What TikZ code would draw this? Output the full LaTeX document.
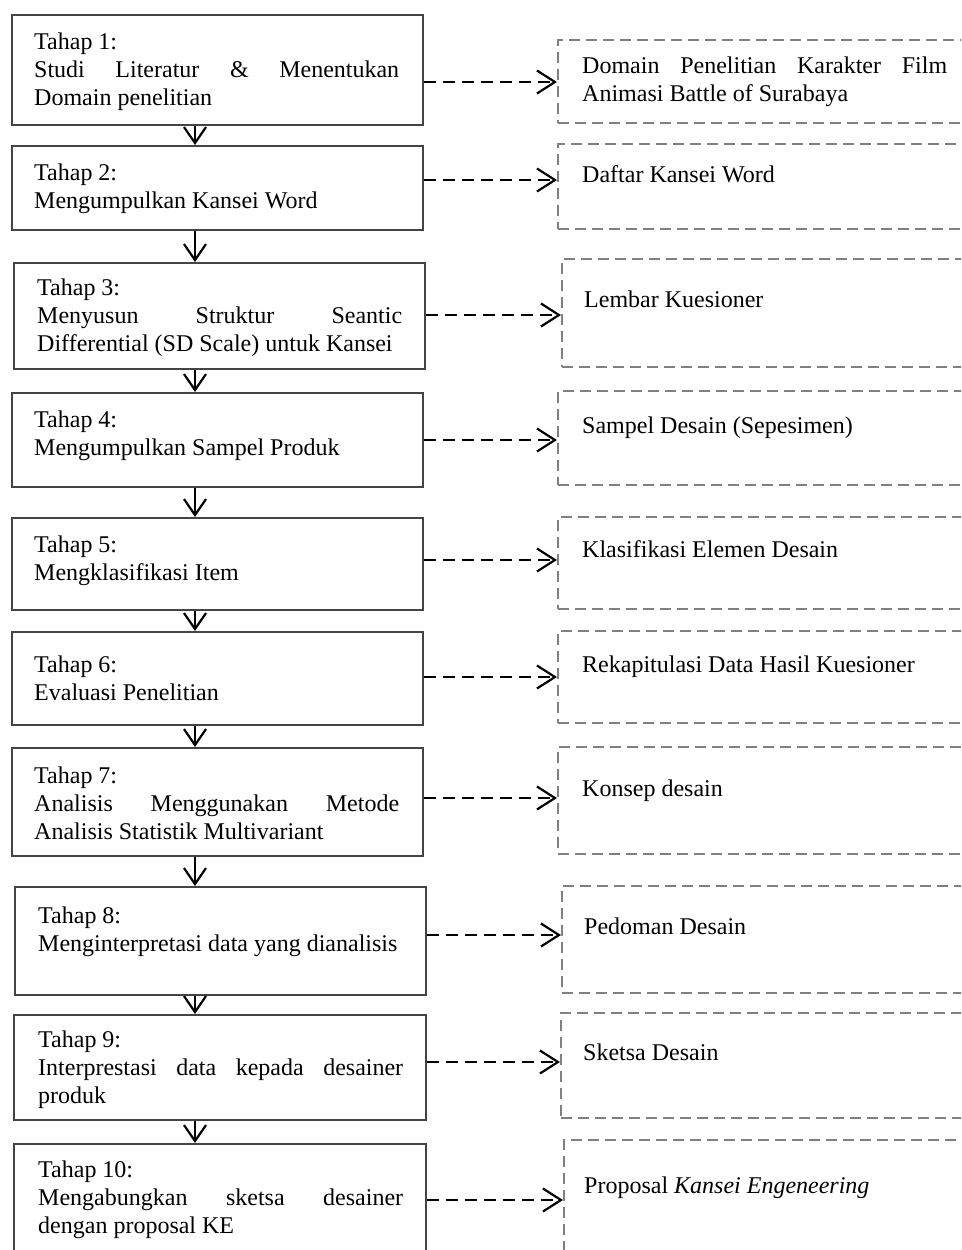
\documentclass[tikz,border=0pt]{standalone}
\usepackage{fontspec}
\setmainfont{Liberation Serif}
\usetikzlibrary{arrows.meta}
\hyphenpenalty=10000
\exhyphenpenalty=10000
\tolerance=10000

\definecolor{Cframe}{HTML}{444444}
\definecolor{Cdashgray}{HTML}{808080}

\tikzset{
  stagebox/.style={draw=Cframe,line width=1.6pt,anchor=north west,inner sep=0pt},
  outbox/.style={draw=Cdashgray,line width=1.6pt,dash pattern=on 11pt off 6pt,
    anchor=north west,inner sep=0pt,minimum width=420},
  boxtext/.style={anchor=base west,inner sep=0pt,text width=365pt,align=justify,
    font=\fontsize{24}{28}\selectfont},
  flowarrow/.style={line width=2.2pt,-{Straight Barb[length=16pt,width=22pt]}},
  outarrow/.style={line width=2.2pt,dash pattern=on 12pt off 7pt,
    -{Straight Barb[length=18pt,width=23pt]}}
}

\begin{document}
\begin{tikzpicture}[x=1pt,y=-1pt]
  \clip (0,0) rectangle (961,1250);
  \fill[white] (0,0) rectangle (961,1250);

  % kotak tahapan (kiri)
  \foreach \i/\x/\y/\w/\h in {1/11/14/411/110,2/11/145/411/84,3/13/262/411/106,
      4/11/392/411/94,5/11/517/411/92,6/11/631/411/93,7/11/747/411/108,
      8/14/886/411/108,9/13/1014/412/105,10/13/1143/412/130}{
    \node[stagebox,minimum width=\w,minimum height=\h] (t\i) at (\x,\y) {};}

  % kotak keluaran (kanan)
  \foreach \i/\x/\y/\h in {1/557/39/83,2/557/143/85,3/561/258/108,4/557/390/94,
      5/557/516/92,6/557/630/92,7/557/746/107,8/561/885/107,9/560/1012/105,
      10/563/1139/130}{
    \node[outbox,minimum height=\h] (o\i) at (\x,\y) {};}

  \node[boxtext] (s1) at ([shift={(23,35)}]t1.north west)
    {Tahap 1:\par Studi Literatur \& Menentukan\linebreak Domain penelitian};
  \node[boxtext] (s2) at ([shift={(23,35)}]t2.north west)
    {Tahap 2:\par Mengumpulkan Kansei Word};
  \node[boxtext] (s3) at ([shift={(24,33)}]t3.north west)
    {Tahap 3:\par Menyusun Struktur Seantic\linebreak Differential (SD Scale) untuk Kansei};
  \node[boxtext] (s4) at ([shift={(23,35)}]t4.north west)
    {Tahap 4:\par Mengumpulkan Sampel Produk};
  \node[boxtext] (s5) at ([shift={(23,35)}]t5.north west)
    {Tahap 5:\par Mengklasifikasi Item};
  \node[boxtext] (s6) at ([shift={(23,41)}]t6.north west)
    {Tahap 6:\par Evaluasi Penelitian};
  \node[boxtext] (s7) at ([shift={(23,36)}]t7.north west)
    {Tahap 7:\par Analisis Menggunakan Metode\linebreak Analisis Statistik Multivariant};
  \node[boxtext] (s8) at ([shift={(24,37)}]t8.north west)
    {Tahap 8:\par Menginterpretasi data yang dianalisis};
  \node[boxtext] (s9) at ([shift={(25,33)}]t9.north west)
    {Tahap 9:\par Interprestasi data kepada desainer\linebreak produk};
  \node[boxtext] (s10) at ([shift={(25,34)}]t10.north west)
    {Tahap 10:\par Mengabungkan sketsa desainer\linebreak dengan proposal KE};

  \node[boxtext] (r1) at ([shift={(25,34)}]o1.north west)
    {Domain Penelitian Karakter Film\linebreak Animasi Battle of Surabaya};
  \node[boxtext] (r2) at ([shift={(25,39)}]o2.north west) {Daftar Kansei Word};
  \node[boxtext] (r3) at ([shift={(23,49)}]o3.north west) {Lembar Kuesioner};
  \node[boxtext] (r4) at ([shift={(25,43)}]o4.north west) {Sampel Desain (Sepesimen)};
  \node[boxtext] (r5) at ([shift={(25,41)}]o5.north west) {Klasifikasi Elemen Desain};
  \node[boxtext] (r6) at ([shift={(25,42)}]o6.north west) {Rekapitulasi Data Hasil Kuesioner};
  \node[boxtext] (r7) at ([shift={(25,50)}]o7.north west) {Konsep desain};
  \node[boxtext] (r8) at ([shift={(23,49)}]o8.north west) {Pedoman Desain};
  \node[boxtext] (r9) at ([shift={(23,48)}]o9.north west) {Sketsa Desain};
  \node[boxtext] (r10) at ([shift={(21,54)}]o10.north west)
    {Proposal \textit{Kansei Engeneering}};

  % alur antar tahap
  \coordinate (spine) at (195,0);
  \foreach \i [evaluate=\i as \j using int(\i+1)] in {1,...,9}
    \draw[flowarrow] (t\i.south -| spine) -- (t\j.north -| spine);

  % panah ke keluaran
  \foreach \i/\ay in {1/82,2/180,3/315,4/440,5/560,6/677,7/798,8/935,9/1062,10/1200}
    \draw[outarrow] (t\i.east |- 0,\ay) -- (o\i.west |- 0,\ay);
\end{tikzpicture}
\end{document}
